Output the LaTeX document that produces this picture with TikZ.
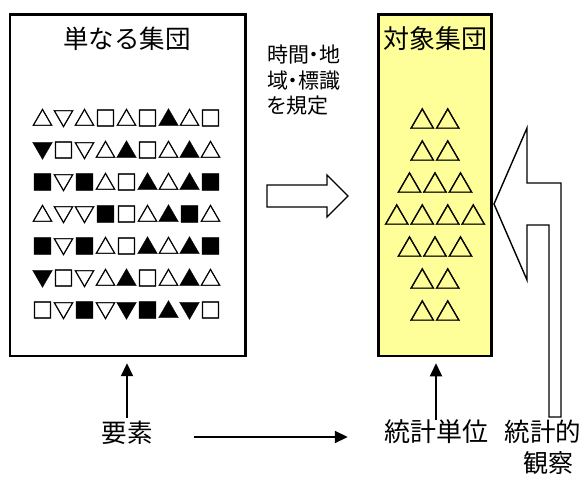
\documentclass[tikz,border=0pt]{standalone}
\usepackage{fontspec}
\setmainfont{Noto Sans CJK JP}
\newfontfamily\paltfont[RawFeature=+palt]{Noto Sans CJK JP}
\newfontfamily\symfont[FakeBold=1.6]{Noto Sans CJK JP}
\usetikzlibrary{arrows.meta}
\definecolor{boxyellow}{HTML}{FFFF99}
\begin{document}
\begin{tikzpicture}[x=1pt,y=-1pt,
  frame/.style={draw=black, line width=2.5pt, inner sep=0pt},
  label/.style={inner sep=0pt, text height=0.88em, text depth=0.12em},
  bigtext/.style={label, font=\fontsize{25.5}{30}\selectfont},
  symrow/.style={inner sep=0pt, font=\symfont\fontsize{21}{25}\selectfont},
  trirow/.style={inner sep=0pt, font=\symfont\fontsize{25.5}{30}\selectfont},
  arr/.style={line width=1.8pt, -{Triangle[length=13pt,width=12pt]}},
  blockarrow/.style={draw=black, fill=white, line width=1.4pt, line join=miter}
]
\useasboundingbox (0,0) rectangle (584,482);

% boxes
\node[frame, fill=white, minimum width=235.5pt, minimum height=341.3pt] (simple) at (127.75,185.3) {};
\node[frame, fill=boxyellow, minimum width=113.2pt, minimum height=341.5pt] (target) at (434.9,185.25) {};

% titles
\node[bigtext] (simpletitle) at (127,45) {単なる集団};
\node[bigtext, font=\fontsize{26}{30}\selectfont] (targettitle) at (435.5,45) {対象集団};

% symbol rows in the simple group
\foreach \i/\row in {0/△▽△□△□▲△□, 1/▼□▽△▲□△▲△, 2/■▽■△□▲△▲■, 3/△▽▽■□△▲■△, 4/■▽■△□▲△▲■, 5/▼□▽△▲□△▲△, 6/□▽■▽▼■▲▼□}{
  \node[symrow] (s\i) at (126.5,118+32*\i) {\row};
}

% triangles in the target group
\foreach \i/\row in {0/△△, 1/△△, 2/△△△, 3/△△△△, 4/△△△, 5/△△, 6/△△}{
  \node[trirow] (t\i) at (435,118.5+32*\i) {\row};
}

% specification text
\node[inner sep=0pt, anchor=west, align=left, font=\paltfont\fontsize{21}{25.5}\selectfont] (spec) at (267,80.5) {時間・地\\域・標識\\を規定};

% block arrow to the right
\draw[blockarrow] (267,185) -- (327,185) -- (327,175) -- (348,196) -- (327,217) -- (327,207) -- (267,207) -- cycle;

% bent block arrow (statistical observation)
\draw[blockarrow] (494,204) -- (527,128) -- (527,183) -- (561,183) -- (561,417) -- (549,417) -- (549,225) -- (527,225) -- (527,280) -- cycle;

% bottom labels
\node[bigtext] (yoso) at (127,439) {要素};
\node[bigtext, font=\fontsize{26}{30}\selectfont] (tani) at (436,438) {統計単位};
\node[bigtext, font=\fontsize{25.5}{30}\selectfont] (kansatsu) at (543,438) {統計的};
\node[bigtext, font=\fontsize{25}{30}\selectfont] (kansatsu2) at (548,468.5) {観察};

% arrows
\draw[arr, shorten <=16pt, shorten >=6pt] (yoso.north) -- (yoso.north |- simple.south);
\draw[arr, shorten <=13pt, shorten >=6pt] (tani.north) -- (tani.north |- target.south);
\draw[arr, shorten <=41pt, shorten >=36pt] ([yshift=2pt]yoso.east) -- ([yshift=2pt]yoso.east -| tani.west);
\end{tikzpicture}
\end{document}
